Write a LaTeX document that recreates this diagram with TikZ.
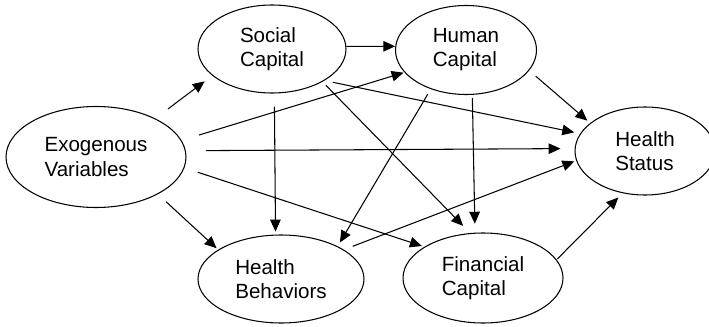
\documentclass[tikz,border=0pt]{standalone}
\usepackage{fontspec}
\setmainfont{Liberation Sans}
\usepackage{tikz}
\usetikzlibrary{arrows.meta,shapes.geometric}

\begin{document}
\begin{tikzpicture}[>={Triangle[length=6.8pt,width=6pt]},
        var/.style={shape=ellipse,draw=black,line width=0.6pt,inner sep=0pt,align=left,
                    font=\fontsize{11.7}{13.7}\selectfont},
        link/.style={->,line width=0.6pt}]
        \useasboundingbox (0,0) rectangle (14.18,6.52);
        \node (exo) at (1.92,3.38) [var,minimum width=3.6cm,minimum height=2.02cm] {Exogenous\\Variables};
        \node (social) at (5.44,5.54) [var,minimum width=2.96cm,minimum height=1.76cm] {Social\\Capital};
        \node (human) at (9.32,5.52) [var,minimum width=2.82cm,minimum height=1.78cm] {Human\\Capital};
        \node (status) at (12.90,3.50) [var,minimum width=2.8cm,minimum height=1.76cm] {Health\\Status};
        \node (behav) at (5.62,0.94) [var,minimum width=3.32cm,minimum height=1.76cm] {Health\\Behaviors};
        \node (fin) at (9.66,0.96) [var,minimum width=3.2cm,minimum height=1.8cm] {Financial\\Capital};

        % from the exogenous variables
        \draw[link,shorten <=9pt,shorten >=5.4pt] (exo.33.5) -- (social.204.8);
        \draw[link,shorten <=10.3pt,shorten >=0.5pt] (exo.11.6) -- (human.200.7);
        \draw[link,shorten <=11.4pt,shorten >=8pt] (exo.4.7) -- (status.178);
        \draw[link,shorten <=8pt,shorten >=1.5pt] (exo.353.8) -- (fin.152.3);
        \draw[link,shorten <=6.3pt,shorten >=1.2pt] (exo.329.4) -- (behav.155);

        % capitals
        \draw[link] (social.2) -- (human.177);
        \draw[link,shorten <=7.4pt,shorten >=1.7pt] (social.273) -- (behav.97);
        \draw[link,shorten <=4.8pt,shorten >=3.4pt] (social.329.7) -- (status.165.8);
        \draw[link,shorten <=2.8pt,shorten >=5.7pt] (social.327.5) -- (fin.106.5);
        \draw[link,shorten <=3.4pt,shorten >=2.5pt] (human.228.5) -- (behav.30.7);
        \draw[link,shorten <=1.7pt,shorten >=5.1pt] (human.278.5) -- (fin.100.5);
        \draw[link,shorten <=4.9pt,shorten >=2.1pt] (human.342.8) -- (status.153.4);

        % into health status
        \draw[link,shorten <=5.4pt,shorten >=1.1pt] (behav.25) -- (status.188);
        \draw[link,shorten <=0.6pt,shorten >=3.4pt] (fin.14.4) -- (status.242);
    \end{tikzpicture}
\end{document}
